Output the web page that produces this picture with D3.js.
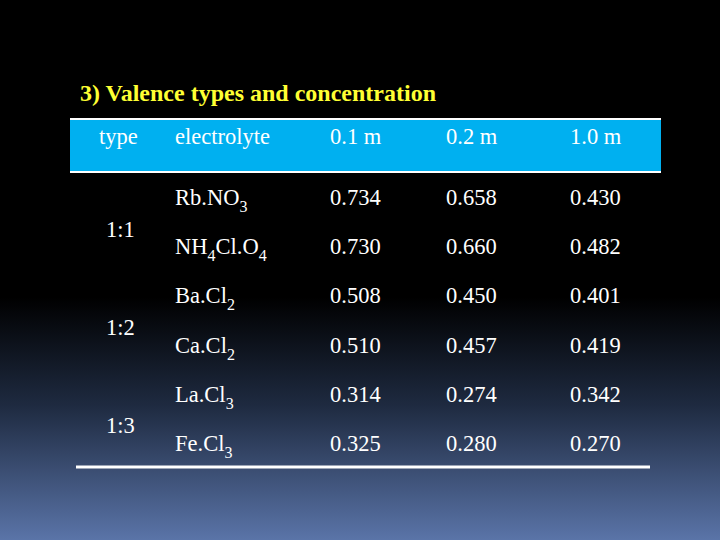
<!DOCTYPE html>
<html><head><meta charset="utf-8">
<script src="https://cdn.jsdelivr.net/npm/d3@7"></script>
<style>body{margin:0;background:#000}svg{display:block}</style>
</head><body>
<script>
const headers = ["type", "electrolyte", "0.1 m", "0.2 m", "1.0 m"];
const types = ["1:1", "1:2", "1:3"];
const electrolytes = [
  [["Rb.NO",0],["3",1]],
  [["NH",0],["4",1],["Cl.O",0],["4",1]],
  [["Ba.Cl",0],["2",1]],
  [["Ca.Cl",0],["2",1]],
  [["La.Cl",0],["3",1]],
  [["Fe.Cl",0],["3",1]]
];
const c01 = ["0.734","0.730","0.508","0.510","0.314","0.325"];
const c02 = ["0.658","0.660","0.450","0.457","0.274","0.280"];
const c10 = ["0.430","0.482","0.401","0.419","0.342","0.270"];

const W=720,H=540;
const svg=d3.select("body").append("svg").attr("width",W).attr("height",H);
const defs=svg.append("defs");
const g=defs.append("linearGradient").attr("id","bg").attr("x1",0).attr("y1",0).attr("x2",0).attr("y2",1);
g.append("stop").attr("offset","0").attr("stop-color","#000");
g.append("stop").attr("offset","0.55").attr("stop-color","#000");
g.append("stop").attr("offset","0.75").attr("stop-color","#1e2a40");
g.append("stop").attr("offset","1").attr("stop-color","#5a74a8");
svg.append("rect").attr("width",W).attr("height",H).attr("fill","url(#bg)");

const font="'Liberation Serif','DejaVu Serif',serif";
const fs=22.5;
svg.append("text").attr("x",80).attr("y",101).attr("fill","#ffff33").attr("font-family",font)
  .attr("font-weight","bold").attr("font-size",24).text("3) Valence types and concentration");

svg.append("rect").attr("x",70).attr("y",119).attr("width",591).attr("height",53).attr("fill","#00b0f0");
svg.append("line").attr("x1",70).attr("x2",661).attr("y1",119).attr("y2",119).attr("stroke","#fff").attr("stroke-width",2);
svg.append("line").attr("x1",70).attr("x2",661).attr("y1",172).attr("y2",172).attr("stroke","#fff").attr("stroke-width",2);

const xs={"type":99,"electrolyte":175,"0.1 m":330,"0.2 m":446,"1.0 m":570};
svg.selectAll(".h").data(headers).join("text").attr("x",d=>xs[d]).attr("y",144)
  .attr("fill","#fff").attr("font-family",font).attr("font-size",fs).text(d=>d);

const rowY=d3.scaleLinear().domain([0,5]).range([205,451]);
const rows=svg.selectAll(".r").data(d3.range(6)).join("g");
rows.append("text").attr("x",xs["electrolyte"]).attr("y",i=>rowY(i)).attr("fill","#fff")
  .attr("font-family",font).attr("font-size",fs)
  .each(function(i){
    const t=d3.select(this);
    let prevSub=false;
    electrolytes[i].forEach(([s,sub])=>{
      const dy=sub?7:(prevSub?-7:0);
      t.append("tspan").attr("dy",dy).attr("font-size",sub?16:fs).text(s);
      prevSub=!!sub;
    });
  });
[[c01,"0.1 m"],[c02,"0.2 m"],[c10,"1.0 m"]].forEach(([arr,h])=>{
  rows.append("text").attr("x",xs[h]).attr("y",i=>rowY(i)).attr("fill","#fff")
    .attr("font-family",font).attr("font-size",fs).text(i=>arr[i]);
});
svg.selectAll(".t").data(types).join("text").attr("x",106).attr("y",(d,i)=>(rowY(2*i)+rowY(2*i+1))/2+7)
  .attr("fill","#fff").attr("font-family",font).attr("font-size",fs).text(d=>d);

svg.append("line").attr("x1",76).attr("x2",650).attr("y1",467).attr("y2",467).attr("stroke","#fff").attr("stroke-width",3);
</script>
</body></html>
